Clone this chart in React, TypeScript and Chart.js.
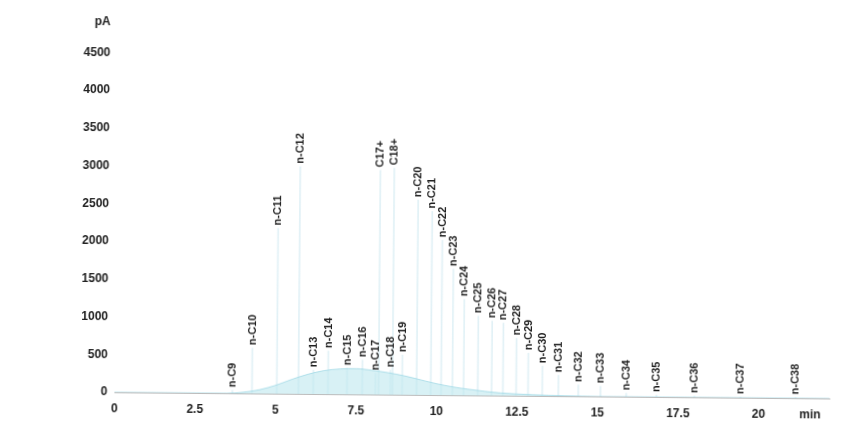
import React, { useEffect, useRef } from "react";
import { Chart, registerables } from "chart.js";

Chart.register(...registerables);

// Labelled peaks: name, retention time (min) and apex signal (pA)
const peakNames = [
  "n-C9", "n-C10", "n-C11", "n-C12", "n-C13", "n-C14", "n-C15", "n-C16",
  "n-C17", "C17+", "n-C18", "C18+", "n-C19", "n-C20", "n-C21", "n-C22",
  "n-C23", "n-C24", "n-C25", "n-C26", "n-C27", "n-C28", "n-C29", "n-C30",
  "n-C31", "n-C32", "n-C33", "n-C34", "n-C35", "n-C36", "n-C37", "n-C38",
];
const peakTimes = [
  3.66, 4.27, 5.04, 5.71, 6.17, 6.63, 7.22, 7.69,
  8.10, 8.20, 8.56, 8.63, 8.93, 9.38, 9.82, 10.14,
  10.49, 10.84, 11.28, 11.71, 12.06, 12.47, 12.84, 13.28,
  13.78, 14.40, 15.09, 15.89, 16.83, 18.01, 19.44, 21.15,
];
const peakHeights = [
  40, 600, 2190, 3010, 315, 570, 345, 455,
  280, 2970, 325, 3000, 525, 2580, 2430, 2050,
  1670, 1270, 1050, 985, 960, 760, 565, 395,
  275, 150, 135, 45, 25, 15, 10, 10,
];

// Unresolved hump under the peaks
const humpTimes = [0, 3.5, 4, 4.5, 5, 5.5, 6, 6.5, 7, 7.5, 8, 8.5, 9, 9.5, 10, 10.5, 11, 11.5, 12, 13, 14, 15, 22.2];
const humpValues = [0, 0, 15, 50, 110, 190, 260, 310, 335, 340, 320, 290, 250, 200, 150, 110, 80, 55, 35, 15, 5, 0, 0];

// Axis ticks; the last entry of each carries the unit label
const timeTicks = [0, 2.5, 5, 7.5, 10, 12.5, 15, 17.5, 20];
const timeUnitTick = 21.6;
const signalTicks = [0, 500, 1000, 1500, 2000, 2500, 3000, 3500, 4000, 4500];
const signalUnitTick = 4900;

const FONT = "'Liberation Sans', Arial, sans-serif";

const peakLabels = {
  id: "peakLabels",
  afterDatasetsDraw(chart: any) {
    const { ctx, scales } = chart;
    const xs = scales.x;
    const ys = scales.y;
    ctx.save();
    ctx.fillStyle = "#1e1e1e";
    ctx.font = `bold 11px ${FONT}`;
    ctx.textAlign = "left";
    ctx.textBaseline = "middle";
    peakNames.forEach((name, i) => {
      const px = xs.getPixelForValue(peakTimes[i]);
      const py = ys.getPixelForValue(peakHeights[i]) - 3;
      ctx.save();
      ctx.translate(px, py);
      ctx.rotate(-Math.PI / 2);
      ctx.fillText(name, 0, 0);
      ctx.restore();
    });
    ctx.restore();
  },
};

export default function App() {
  const canvasRef = useRef<HTMLCanvasElement | null>(null);

  useEffect(() => {
    if (!canvasRef.current) return;
    const chart = new Chart(canvasRef.current, {
      type: "line",
      data: {
        datasets: [
          {
            type: "line",
            data: humpTimes.map((t, i) => ({ x: t, y: humpValues[i] })),
            borderColor: "rgba(150, 212, 226, 0.7)",
            borderWidth: 1,
            backgroundColor: "rgba(190, 232, 238, 0.6)",
            fill: "origin",
            cubicInterpolationMode: "monotone",
            pointRadius: 0,
          },
          {
            type: "bar",
            data: peakTimes.map((t, i) => ({ x: t, y: peakHeights[i] })),
            backgroundColor: "rgba(170, 215, 230, 0.35)",
            barThickness: 1,
          },
        ],
      } as any,
      options: {
        animation: false,
        responsive: false,
        events: [],
        layout: { padding: { top: 17, right: 20, bottom: 0, left: 0 } },
        plugins: {
          legend: { display: false },
          tooltip: { enabled: false },
          title: { display: false },
        },
        scales: {
          x: {
            type: "linear",
            min: 0,
            max: 22.2,
            offset: false,
            grid: { display: false, drawTicks: false },
            border: { display: true, color: "#bcbcbc", width: 1 },
            afterBuildTicks: (axis: any) => {
              axis.ticks = [...timeTicks, timeUnitTick].map((v) => ({ value: v }));
            },
            afterFit: (axis: any) => {
              axis.height = 24;
            },
            ticks: {
              autoSkip: false,
              maxRotation: 0,
              padding: 9,
              color: "#222",
              font: { family: FONT, size: 12, weight: "bold" },
              callback: (v: any) => (v === timeUnitTick ? "min" : String(v)),
            },
          },
          y: {
            type: "linear",
            min: 0,
            max: signalUnitTick,
            grid: { display: false, drawTicks: false },
            border: { display: false },
            afterBuildTicks: (axis: any) => {
              axis.ticks = [...signalTicks, signalUnitTick].map((v) => ({ value: v }));
            },
            afterFit: (axis: any) => {
              axis.width = 108;
            },
            ticks: {
              autoSkip: false,
              padding: 7,
              color: "#222",
              font: { family: FONT, size: 12, weight: "bold" },
              callback: (v: any) => (v === signalUnitTick ? "pA" : String(v)),
            },
          },
        },
      } as any,
      plugins: [peakLabels],
    });
    return () => chart.destroy();
  }, []);

  return (
    <div style={{ width: 843, height: 411, transform: "rotate(0.5deg)" }}>
      <canvas ref={canvasRef} width={843} height={411} />
    </div>
  );
}
